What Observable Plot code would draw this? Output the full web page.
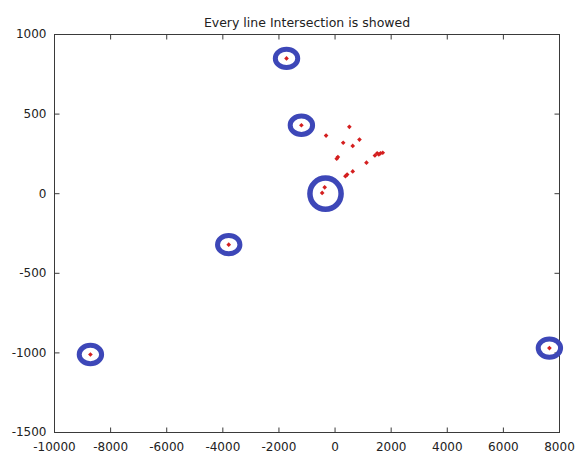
<!DOCTYPE html>
<html><head><meta charset="utf-8">
<script src="https://cdn.jsdelivr.net/npm/d3@7"></script>
<script src="https://cdn.jsdelivr.net/npm/@observablehq/plot@0.6"></script>
<style>body{margin:0;background:#fff}</style>
</head><body><div id="chart"></div>
<script>
const title = "Every line Intersection is showed";
const xTicks = [-10000, -8000, -6000, -4000, -2000, 0, 2000, 4000, 6000, 8000];
const yTicks = [-1500, -1000, -500, 0, 500, 1000];

// circled intersections
const ringX = [-1730, -1200, -3790, -8720, 7640];
const ringY = [850, 430, -320, -1010, -970];
const bigRingX = [-340];
const bigRingY = [0];

// all intersection points
const ptX = [-1730, -1200, -3790, -8720, 7640,
  510, -320, 290, 870, 630, 100, 60, 1500, 1620, 1420, 1700, 1560, 1120, 630, 430, 370, -370, -460];
const ptY = [850, 430, -320, -1010, -970,
  420, 365, 320, 340, 300, 230, 220, 254, 254, 240, 257, 246, 195, 140, 120, 110, 40, 5];

const rings = ringX.map((x, i) => ({x, y: ringY[i]}));
const bigRings = bigRingX.map((x, i) => ({x, y: bigRingY[i]}));
const pts = ptX.map((x, i) => ({x, y: ptY[i]}));

// slightly wide ellipse symbol (marker shape)
const ellipse = {
  draw(ctx, size) {
    const r = Math.sqrt(size / Math.PI), rx = r * 1.12, ry = r * 0.92, k = 0.5523;
    ctx.moveTo(rx, 0);
    ctx.bezierCurveTo(rx, k * ry, k * rx, ry, 0, ry);
    ctx.bezierCurveTo(-k * rx, ry, -rx, k * ry, -rx, 0);
    ctx.bezierCurveTo(-rx, -k * ry, -k * rx, -ry, 0, -ry);
    ctx.bezierCurveTo(k * rx, -ry, rx, -k * ry, rx, 0);
    ctx.closePath();
  }
};

const W = 576, H = 454, mL = 54, mR = 17, mT = 34, mB = 22;
const plotW = W - mL - mR, plotH = H - mT - mB, tick = 5;
const axisColor = "#3a3a3a";
const textColor = "#222";
const font = "DejaVu Sans, sans-serif";
const fmt = d => String(d);
const xMin = xTicks[0], xMax = xTicks[xTicks.length - 1];
const yMin = yTicks[0], yMax = yTicks[yTicks.length - 1];
// tick length expressed in data units of each axis
const tx = (xMax - xMin) * tick / plotW;
const ty = (yMax - yMin) * tick / plotH;

const chart = Plot.plot({
  width: W,
  height: H,
  marginLeft: mL,
  marginRight: mR,
  marginTop: mT,
  marginBottom: mB,
  style: {fontFamily: font, fontSize: "12px", color: textColor, background: "#fff"},
  x: {domain: [xMin, xMax], axis: null},
  y: {domain: [yMin, yMax], axis: null},
  marks: [
    Plot.frame({stroke: axisColor}),
    // inward ticks on all four sides
    Plot.link(xTicks, {x1: d => d, x2: d => d, y1: yMin, y2: yMin + ty, stroke: axisColor, strokeWidth: 1}),
    Plot.link(xTicks, {x1: d => d, x2: d => d, y1: yMax, y2: yMax - ty, stroke: axisColor, strokeWidth: 1}),
    Plot.link(yTicks, {y1: d => d, y2: d => d, x1: xMin, x2: xMin + tx, stroke: axisColor, strokeWidth: 1}),
    Plot.link(yTicks, {y1: d => d, y2: d => d, x1: xMax, x2: xMax - tx, stroke: axisColor, strokeWidth: 1}),
    // tick labels
    Plot.text(xTicks, {x: d => d, y: yMin, text: fmt, dy: 15, fill: textColor, fontSize: 12}),
    Plot.text(yTicks, {x: xMin, y: d => d, text: fmt, textAnchor: "end", dx: -8, fill: textColor, fontSize: 12}),
    Plot.dot(rings, {x: "x", y: "y", r: 10, symbol: ellipse, stroke: "#3d47b8", strokeWidth: 5, fill: "none"}),
    Plot.dot(bigRings, {x: "x", y: "y", r: 15.6, symbol: "circle", stroke: "#3d47b8", strokeWidth: 5.5, fill: "none"}),
    Plot.dot(pts, {x: "x", y: "y", r: 2.1, symbol: "diamond2", fill: "#d41f1f", stroke: "none"}),
    Plot.text([title], {frameAnchor: "top", dy: -16, text: d => d, fontSize: 12.5, fill: textColor})
  ]
});
document.getElementById("chart").appendChild(chart);
</script>
</body></html>
